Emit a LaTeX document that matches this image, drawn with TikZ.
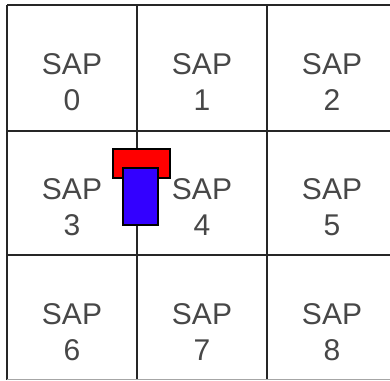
\documentclass[tikz,border=0pt]{standalone}
\usepackage{fontspec}
\setmainfont{Liberation Sans}
\usepackage{xcolor}
\usepackage{tikz}
\usetikzlibrary{positioning}
\definecolor{sapred}{RGB}{255,0,0}
\definecolor{sapblue}{RGB}{51,0,255}

\begin{document}
\begin{tikzpicture}[x=1pt, y=-1pt,
    every node/.style={font=\fontsize{30}{36}\selectfont, text=black!72},
    gridline/.style={black!85, line width=1.6pt},
    saplabel/.style={align=center, inner sep=0pt},
    headbox/.style={draw=black, line width=1.4pt, fill=sapred, inner sep=0pt,
                    minimum width=57pt, minimum height=29pt},
    bodybox/.style={draw=black, line width=1.4pt, fill=sapblue, inner sep=0pt,
                    minimum width=35pt, minimum height=57pt}]
  \useasboundingbox (0,0) rectangle (390,380);
  \fill[white] (0,0) rectangle (390,380);

  % 3x3 grid of cells
  \foreach \gx in {7,137,267} \draw[gridline] (\gx,5) -- (\gx,380);
  \draw[gridline] (7,5) -- (390,5);
  \foreach \gy in {131,255} \draw[gridline] (7,\gy) -- (390,\gy);
  \draw[black!35, line width=1.2pt] (7,379.4) -- (390,379.4);

  % cell labels
  \foreach \n in {0,...,8} {
    \pgfmathtruncatemacro{\col}{mod(\n,3)}
    \pgfmathtruncatemacro{\row}{div(\n,3)}
    \node[saplabel] (sap\n) at (72+130*\col, 82+125*\row) {SAP\\\n};
  }

  % the red and blue piece on the line between SAP 3 and SAP 4
  \node[headbox] (head) at (141.5,163.5) {};
  \node[bodybox] (body) at (140.5,196.5) {};
\end{tikzpicture}
\end{document}
